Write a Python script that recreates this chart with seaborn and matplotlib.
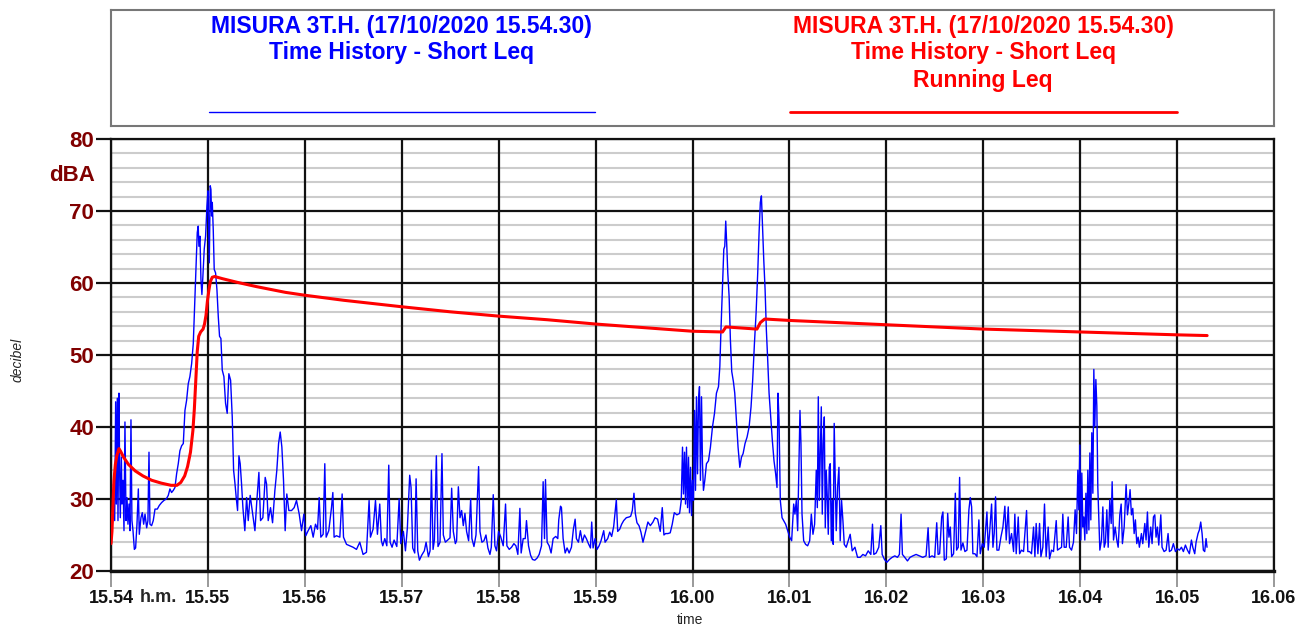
import matplotlib
matplotlib.use("Agg")
import matplotlib.pyplot as plt
from matplotlib import font_manager
import seaborn as sns
import pandas as pd

# ---------------- data ----------------
# time in minutes after 15.54 ; level in dB(A)
blue_t = [
    0.000, 0.007, 0.024, 0.038, 0.048, 0.055, 0.065, 0.072, 0.082, 0.089, 0.096, 0.107, 0.113, 0.124, 0.134,
    0.144, 0.155, 0.165, 0.175, 0.186, 0.196, 0.206, 0.216, 0.227, 0.241, 0.254, 0.268, 0.282, 0.292, 0.309,
    0.323, 0.337, 0.351, 0.368, 0.381, 0.392, 0.402, 0.419, 0.436, 0.454, 0.478, 0.498, 0.522, 0.546, 0.570,
    0.591, 0.608, 0.625, 0.643, 0.660, 0.677, 0.694, 0.711, 0.729, 0.746, 0.763, 0.780, 0.797, 0.814, 0.832,
    0.849, 0.866, 0.876, 0.890, 0.900, 0.907, 0.918, 0.928, 0.938, 0.948, 0.962, 0.976, 0.990, 1.000, 1.007,
    1.014, 1.024, 1.031, 1.038, 1.045, 1.055, 1.065, 1.079, 1.093, 1.107, 1.120, 1.134, 1.148, 1.165, 1.182,
    1.199, 1.216, 1.234, 1.251, 1.265, 1.278, 1.292, 1.306, 1.320, 1.333, 1.347, 1.361, 1.381, 1.399, 1.416,
    1.436, 1.457, 1.485, 1.505, 1.526, 1.543, 1.567, 1.591, 1.605, 1.622, 1.646, 1.667, 1.691, 1.711, 1.729,
    1.746, 1.763, 1.780, 1.797, 1.814, 1.835, 1.863, 1.890, 1.914, 1.942, 1.966, 1.990, 2.010, 2.034, 2.062,
    2.086, 2.110, 2.131, 2.148, 2.165, 2.189, 2.206, 2.220, 2.247, 2.275, 2.289, 2.302, 2.326, 2.361, 2.385,
    2.399, 2.430, 2.464, 2.498, 2.533, 2.567, 2.601, 2.636, 2.663, 2.677, 2.704, 2.729, 2.749, 2.773, 2.790,
    2.804, 2.825, 2.846, 2.866, 2.880, 2.900, 2.921, 2.949, 2.973, 2.990, 3.017, 3.038, 3.058, 3.082, 3.096,
    3.113, 3.134, 3.148, 3.165, 3.182, 3.206, 3.233, 3.251, 3.275, 3.292, 3.306, 3.323, 3.337, 3.357, 3.374,
    3.395, 3.415, 3.429, 3.450, 3.474, 3.498, 3.515, 3.532, 3.553, 3.566, 3.584, 3.601, 3.618, 3.635, 3.652,
    3.669, 3.690, 3.711, 3.724, 3.745, 3.766, 3.793, 3.807, 3.827, 3.848, 3.869, 3.889, 3.910, 3.924, 3.944,
    3.961, 3.978, 3.999, 4.020, 4.047, 4.071, 4.085, 4.109, 4.133, 4.157, 4.178, 4.198, 4.219, 4.232, 4.253,
    4.274, 4.287, 4.308, 4.329, 4.349, 4.373, 4.397, 4.418, 4.442, 4.459, 4.473, 4.483, 4.500, 4.521, 4.541,
    4.562, 4.589, 4.610, 4.620, 4.638, 4.648, 4.665, 4.686, 4.706, 4.727, 4.751, 4.771, 4.789, 4.802, 4.823,
    4.843, 4.864, 4.885, 4.905, 4.926, 4.947, 4.960, 4.974, 4.995, 5.015, 5.036, 5.056, 5.084, 5.098, 5.125,
    5.146, 5.166, 5.187, 5.214, 5.228, 5.249, 5.269, 5.290, 5.317, 5.345, 5.362, 5.379, 5.396, 5.410, 5.427,
    5.448, 5.468, 5.489, 5.516, 5.540, 5.565, 5.592, 5.613, 5.640, 5.667, 5.688, 5.705, 5.722, 5.746, 5.770,
    5.791, 5.812, 5.839, 5.867,
    5.884, 5.897, 5.907, 5.918, 5.928, 5.938, 5.949, 5.959, 5.969, 5.980, 5.990, 6.000, 6.010, 6.021, 6.031,
    6.041, 6.052, 6.062, 6.072, 6.082, 6.093, 6.103, 6.113, 6.127, 6.144, 6.165, 6.185, 6.206, 6.227, 6.247,
    6.268, 6.282, 6.295, 6.309, 6.323, 6.333, 6.343, 6.354, 6.364, 6.378, 6.391, 6.405, 6.422, 6.436, 6.453,
    6.470, 6.488, 6.505, 6.522, 6.542, 6.563, 6.584, 6.604, 6.621, 6.639, 6.656, 6.673, 6.687, 6.700, 6.711,
    6.721, 6.735, 6.749, 6.762, 6.776, 6.790, 6.807, 6.824, 6.841, 6.858, 6.872, 6.882, 6.893, 6.906, 6.924,
    6.941, 6.961, 6.982, 7.003, 7.023, 7.044, 7.057, 7.071, 7.085, 7.099, 7.109, 7.119, 7.130, 7.147, 7.167,
    7.188, 7.209, 7.226, 7.243, 7.260, 7.277, 7.288, 7.298, 7.308, 7.318, 7.329, 7.339, 7.349, 7.360, 7.370,
    7.380, 7.391, 7.401, 7.411, 7.421, 7.432, 7.442, 7.452, 7.462, 7.473, 7.483, 7.497, 7.511, 7.524, 7.538,
    7.552, 7.566, 7.586, 7.607, 7.627, 7.648, 7.676, 7.703, 7.730, 7.758, 7.785, 7.813, 7.840, 7.857, 7.871,
    7.895, 7.922, 7.943, 7.957, 7.981, 8.005, 8.032, 8.060, 8.087, 8.115, 8.135, 8.152, 8.166, 8.190, 8.218,
    8.245, 8.273, 8.307, 8.342, 8.376, 8.410, 8.431, 8.444, 8.472, 8.499, 8.520, 8.534,
    8.550, 8.571, 8.584, 8.598, 8.619, 8.633, 8.646, 8.660, 8.674, 8.694, 8.712, 8.725, 8.742, 8.756, 8.770,
    8.790, 8.811, 8.832, 8.852, 8.866, 8.880, 8.893, 8.914, 8.935, 8.955, 8.969, 8.990, 9.010, 9.038, 9.051,
    9.065, 9.086, 9.100, 9.113, 9.127, 9.141, 9.161, 9.182, 9.203, 9.223, 9.237, 9.258, 9.271, 9.292, 9.313,
    9.326, 9.340, 9.361, 9.375, 9.395, 9.416, 9.430, 9.447, 9.460, 9.478, 9.498, 9.519, 9.533, 9.546, 9.564,
    9.581, 9.595, 9.615, 9.632, 9.649, 9.670, 9.684, 9.704, 9.725, 9.753, 9.766, 9.787, 9.808, 9.821, 9.835,
    9.856, 9.876, 9.890, 9.911, 9.931, 9.948, 9.962, 9.976, 9.986, 9.997, 10.007, 10.017, 10.028, 10.038, 10.048,
    10.059, 10.069, 10.079, 10.090, 10.100, 10.110, 10.120, 10.131, 10.141, 10.151, 10.162, 10.172, 10.182, 10.193, 10.203,
    10.220, 10.234, 10.248, 10.261, 10.275, 10.289, 10.306, 10.320, 10.330, 10.344, 10.361, 10.378, 10.392, 10.409, 10.423,
    10.436, 10.454, 10.474, 10.488, 10.502, 10.515, 10.529, 10.543, 10.557, 10.570, 10.584, 10.598, 10.611, 10.632, 10.646,
    10.667, 10.680, 10.694, 10.708, 10.728, 10.742, 10.756, 10.770, 10.783, 10.797, 10.811, 10.832, 10.845, 10.866, 10.887,
    10.907, 10.921, 10.942, 10.962, 10.983, 11.003, 11.024, 11.045, 11.065, 11.086, 11.107, 11.127, 11.148, 11.162, 11.182,
    11.196, 11.216, 11.230, 11.244, 11.258, 11.271, 11.285, 11.299, 11.309,
]
blue_db = [
    24.2, 24.9, 29.3, 27.0, 43.5, 29.3, 44.0, 27.0, 44.7, 34.0, 27.4, 35.8, 29.3, 32.6, 25.6,
    40.7, 27.0, 30.2, 26.5, 29.3, 25.6, 41.0, 27.0, 25.6, 23.0, 23.2, 26.5, 31.4, 25.1, 27.4,
    28.1, 26.5, 27.9, 26.0, 27.0, 36.5, 26.5, 26.3, 27.0, 28.6, 28.6, 29.1, 29.5, 29.8, 30.0,
    30.5, 31.4, 30.9, 31.2, 31.6, 33.5, 34.9, 36.7, 37.4, 37.7, 42.3, 43.7, 46.0, 47.0, 48.8,
    51.6, 58.1, 62.3, 67.0, 67.9, 65.1, 66.5, 60.5, 58.4, 60.9, 64.7, 66.5, 70.7, 72.8, 67.4,
    62.8, 73.5, 73.0, 69.3, 71.2, 67.4, 61.9, 61.4, 59.1, 55.3, 52.6, 52.3, 47.9, 47.0, 43.3,
    41.9, 47.4, 46.5, 41.4, 34.0, 32.3, 30.2, 28.4, 36.0, 34.9, 32.1, 28.8, 25.6, 30.2, 27.0,
    30.5, 28.4, 25.6, 29.8, 33.7, 27.0, 27.4, 33.0, 32.1, 27.0, 28.8, 26.7, 31.2, 34.0, 37.7,
    39.3, 37.2, 32.6, 25.6, 30.7, 28.4, 28.4, 28.8, 29.8, 27.9, 25.6, 27.9, 24.9, 25.6, 26.3,
    24.7, 26.5, 25.8, 30.2, 24.7, 25.1, 34.9, 24.7, 25.6, 28.8, 30.9, 24.7, 24.9, 24.7, 30.7,
    24.7, 23.7, 23.5, 23.3, 23.0, 24.0, 22.3, 22.6, 29.8, 24.7, 25.8, 29.8, 25.1, 29.3, 24.2,
    23.5, 24.5, 23.5, 34.7, 24.0, 23.3, 24.3, 23.4, 30.0, 23.8, 25.5, 22.8, 26.0, 33.3, 31.6,
    23.2, 22.5, 32.8, 22.8, 21.5, 22.2, 22.8, 24.0, 22.0, 22.8, 34.0, 23.0, 24.3, 36.0, 23.4,
    24.0, 36.3, 25.0, 24.0, 24.3, 24.6, 31.5, 25.5, 23.8, 24.2, 31.7, 27.4, 28.4, 26.3, 28.0,
    25.5, 24.2, 30.0, 24.5, 23.4, 25.0, 34.5, 25.5, 24.0, 24.2, 25.0, 23.2, 22.3, 23.3, 30.6,
    23.5, 22.8, 25.5, 24.8, 23.5, 29.3, 23.5, 23.0, 23.3, 23.8, 23.5, 22.3, 28.7, 22.5, 24.5,
    24.5, 27.0, 23.5, 22.2, 21.6, 21.5, 21.8, 22.3, 23.5, 32.4, 24.5, 32.7, 24.0, 23.5, 22.5,
    24.5, 24.8, 24.5, 27.1, 29.0, 28.8, 24.5, 22.5, 23.2, 22.5, 23.3, 25.8, 27.2, 24.5, 24.0,
    25.6, 24.0, 25.0, 24.5, 23.8, 23.2, 26.8, 23.2, 24.5, 23.0, 23.5, 24.2, 25.6, 24.0, 24.5,
    25.4, 24.8, 26.2, 29.9, 25.5, 25.8, 26.5, 27.0, 27.4, 27.5, 27.6, 28.4, 30.8, 28.0, 26.7,
    26.3, 25.4, 24.0, 25.5, 26.8, 26.3, 26.8, 27.4, 27.2, 25.5, 28.8, 25.0, 25.2, 25.2, 25.3,
    26.5, 28.1, 27.8, 28.0,
    29.8, 37.2, 30.7, 36.5, 29.3, 37.2, 28.8, 35.8, 28.1, 34.4, 27.7, 32.6, 29.8, 42.3, 31.2,
    44.2, 33.5, 43.7, 45.6, 32.6, 44.2, 34.9, 31.2, 32.6, 34.9, 35.3, 37.2, 40.0, 41.9, 44.7,
    45.6, 48.4, 54.0, 59.5, 64.7, 65.1, 68.6, 65.1, 61.4, 58.1, 52.1, 47.7, 46.3, 44.7, 40.9,
    37.2, 34.4, 35.8, 36.3, 37.7, 38.6, 40.0, 42.8, 46.5, 51.6, 55.8, 61.4, 67.0, 71.2, 72.1,
    68.4, 63.3, 59.1, 53.5, 49.3, 44.7, 41.4, 38.1, 35.3, 33.5, 31.6, 44.7, 40.9, 29.8, 27.4,
    27.0, 26.5, 25.6, 24.7, 24.2, 29.3, 27.9, 29.8, 25.6, 35.8, 42.3, 37.7, 27.9, 24.2, 23.7,
    23.5, 24.2, 27.9, 25.1, 26.5, 34.0, 28.8, 44.2, 29.8, 35.8, 42.8, 27.9, 37.7, 41.4, 26.0,
    34.0, 30.2, 25.1, 34.4, 34.9, 24.2, 29.8, 23.7, 40.5, 32.6, 25.6, 31.6, 34.4, 24.2, 29.8,
    27.0, 23.7, 23.3, 24.2, 25.1, 22.8, 23.3, 21.9, 21.9, 22.3, 22.1, 22.8, 22.3, 26.5, 22.3,
    22.5, 23.3, 26.3, 22.3, 21.6, 21.2, 21.6, 21.9, 22.1, 21.9, 22.3, 27.9, 22.3, 21.9, 21.4,
    21.9, 22.1, 22.3, 22.1, 21.9, 22.1, 26.0, 21.9, 22.1, 21.9, 26.7, 22.3,
    22.4, 27.5, 28.2, 21.5, 21.7, 28.0, 24.7, 26.1, 22.0, 22.4, 30.8, 22.9, 23.3, 33.0, 22.9,
    23.9, 22.7, 22.9, 28.5, 30.2, 28.9, 22.4, 22.4, 22.0, 27.1, 22.4, 23.8, 23.3, 28.2, 22.9,
    25.2, 29.3, 23.3, 25.2, 30.3, 22.9, 22.9, 24.7, 26.1, 29.0, 24.3, 28.9, 23.8, 25.2, 22.7,
    27.9, 22.4, 27.5, 22.4, 22.9, 22.7, 25.2, 28.4, 22.7, 22.7, 22.4, 26.1, 22.0, 26.6, 22.4,
    26.6, 22.0, 23.3, 29.3, 22.0, 26.1, 21.7, 22.9, 22.7, 27.0, 22.9, 23.1, 23.3, 27.9, 23.3,
    23.3, 27.5, 23.3, 22.9, 24.0, 28.5, 25.2, 34.0, 28.5, 37.5, 24.3, 33.6, 26.1, 27.5, 24.3,
    30.8, 25.2, 34.0, 25.7, 36.4, 27.1, 39.2, 30.8, 48.0, 40.1, 46.6, 42.9, 31.7, 27.1, 22.9,
    24.3, 28.9, 23.3, 24.0, 28.5, 23.3, 29.9, 26.6, 32.4, 24.3, 26.1, 24.3, 23.3, 27.8, 29.3,
    23.8, 26.1, 32.0, 27.8, 29.4, 31.3, 27.8, 28.7, 25.2, 27.1, 23.8, 24.7, 23.3, 25.2, 23.8,
    26.6, 24.3, 28.2, 23.3, 26.1, 23.8, 27.5, 27.8, 24.7, 26.1, 23.6, 27.8, 23.3, 22.7, 22.9,
    25.2, 22.7, 22.9, 23.8, 22.7, 23.1, 22.9, 23.3, 22.7, 23.6, 22.9, 22.4, 24.3, 23.3, 22.4,
    24.0, 25.2, 25.7, 26.8, 25.2, 22.9, 22.7, 24.5, 23.3,
]

red_t = [0.000, 0.010, 0.020, 0.030, 0.045, 0.060, 0.082, 0.100, 0.130, 0.180, 0.250, 0.330, 0.420, 0.520,
         0.620, 0.680, 0.720, 0.760, 0.790, 0.820, 0.845, 0.860, 0.875, 0.890, 0.905, 0.925, 0.950, 0.965,
         0.980, 0.995, 1.010, 1.025, 1.045, 1.070, 1.150, 1.300, 1.500, 1.800, 2.000, 2.400, 2.800, 3.000,
         3.500, 4.000, 4.500, 5.000, 5.500, 6.000, 6.310, 6.345, 6.665, 6.700, 6.745, 7.000, 8.000, 9.000,
         10.000, 11.000, 11.310]
red_db = [23.8, 25.5, 29.0, 32.5, 34.8, 36.0, 37.0, 36.6, 35.8, 34.8, 33.9, 33.2, 32.6, 32.2,
          31.9, 31.9, 32.3, 33.2, 34.5, 36.5, 39.5, 42.5, 46.5, 50.5, 52.6, 53.2, 53.6, 54.3,
          55.5, 57.5, 59.0, 60.2, 60.8, 60.9, 60.6, 60.1, 59.5, 58.7, 58.3, 57.6, 57.0, 56.7,
          56.0, 55.4, 54.9, 54.3, 53.8, 53.3, 53.2, 53.9, 53.6, 54.5, 55.0, 54.8, 54.2, 53.6,
          53.2, 52.8, 52.7]

x_ticks = list(range(0, 13))
x_tick_labels = ["15.54", "15.55", "15.56", "15.57", "15.58", "15.59", "16.00",
                 "16.01", "16.02", "16.03", "16.04", "16.05", "16.06"]
y_major = [20, 30, 40, 50, 60, 70, 80]
y_minor = [22, 24, 26, 28, 32, 34, 36, 38, 42, 44, 46, 48, 52, 54, 56, 58, 62, 64, 66, 68, 72, 74, 76, 78]

legend_title = "MISURA 3T.H. (17/10/2020 15.54.30)"
legend_blue = "Time History - Short Leq"
legend_red = ["Time History - Short Leq", "Running Leq"]

# ---------------- style ----------------
sns.set_style("white")
available = {f.name for f in font_manager.fontManager.ttflist}
narrow = "Liberation Sans Narrow" if "Liberation Sans Narrow" in available else "Liberation Sans"
plt.rcParams["font.family"] = ["Liberation Sans", "DejaVu Sans"]

BLUE = "#0000ff"
RED = "#ff0000"
DARKRED = "#800000"

fig = plt.figure(figsize=(13.01, 6.28), dpi=100)
W, H = 1301, 628
ax = fig.add_axes([111 / W, 1 - 571 / H, 1163 / W, 432 / H])

blue_df = pd.DataFrame({"t": blue_t, "db": blue_db})
red_df = pd.DataFrame({"t": red_t, "db": red_db})

# grid
for v in y_minor:
    ax.axhline(v, color="#cccccc", lw=1.5, zorder=0)
for v in y_major:
    ax.axhline(v, color="#111111", lw=1.6, zorder=1)
for v in x_ticks:
    ax.axvline(v, color="#111111", lw=1.6, zorder=1)

sns.lineplot(data=blue_df, x="t", y="db", ax=ax, color=BLUE, lw=1.0, estimator=None, sort=False, zorder=3)
sns.lineplot(data=red_df, x="t", y="db", ax=ax, color=RED, lw=2.2, estimator=None, sort=False, zorder=4)

ax.set_xlim(0, 12)
ax.set_ylim(20, 80)
ax.set_xlabel("")
ax.set_ylabel("")
for s in ax.spines.values():
    s.set_color("#111111")
    s.set_linewidth(1.6)
ax.spines["bottom"].set_linewidth(2.4)

ax.set_xticks(x_ticks)
ax.set_xticklabels(x_tick_labels, fontsize=13, fontweight="bold", color="#111111")
ax.set_yticks(y_major)
ax.set_yticklabels([str(v) for v in y_major], fontsize=16, fontweight="bold", color=DARKRED)
ax.tick_params(axis="x", length=11.5, width=1.2, color="#888888", pad=2, bottom=True)
ax.tick_params(axis="y", length=11, width=1.6, color="#111111", pad=1, left=True)

# extra labels
ax.annotate("h.m.", xy=(0, 0), xycoords=("data", "axes fraction"), xytext=(29, -18.5),
            textcoords="offset pixels", ha="left", va="top", fontsize=13, fontweight="bold")
fig.text(72 / W, 1 - 176 / H, "dBA", ha="center", va="center", fontsize=16, fontweight="bold", color=DARKRED)
fig.text(18 / W, 1 - 360 / H, "decibel", ha="center", va="center", rotation=90, fontsize=10, style="italic")
fig.text(690 / W, 1 - 620 / H, "time", ha="center", va="center", fontsize=10)

# legend box
lax = fig.add_axes([111 / W, 1 - 126 / H, 1163 / W, 116 / H])
lax.set_xlim(0, 1)
lax.set_ylim(0, 1)
lax.set_xticks([])
lax.set_yticks([])
for s in lax.spines.values():
    s.set_color("#777777")
    s.set_linewidth(1.5)
tkw = dict(ha="center", va="center", fontsize=16.5, fontweight="bold", family=[narrow, "DejaVu Sans"])
lax.text(0.25, 0.855, legend_title, color=BLUE, **tkw)
lax.text(0.25, 0.63, legend_blue, color=BLUE, **tkw)
lax.text(0.75, 0.855, legend_title, color=RED, **tkw)
lax.text(0.75, 0.63, legend_red[0], color=RED, **tkw)
lax.text(0.75, 0.39, legend_red[1], color=RED, **tkw)
lax.plot([0.0843, 0.416], [0.12, 0.12], color=BLUE, lw=1.0)
lax.plot([0.584, 0.9166], [0.12, 0.12], color=RED, lw=2.0)

fig.savefig("out.png", dpi=100)
